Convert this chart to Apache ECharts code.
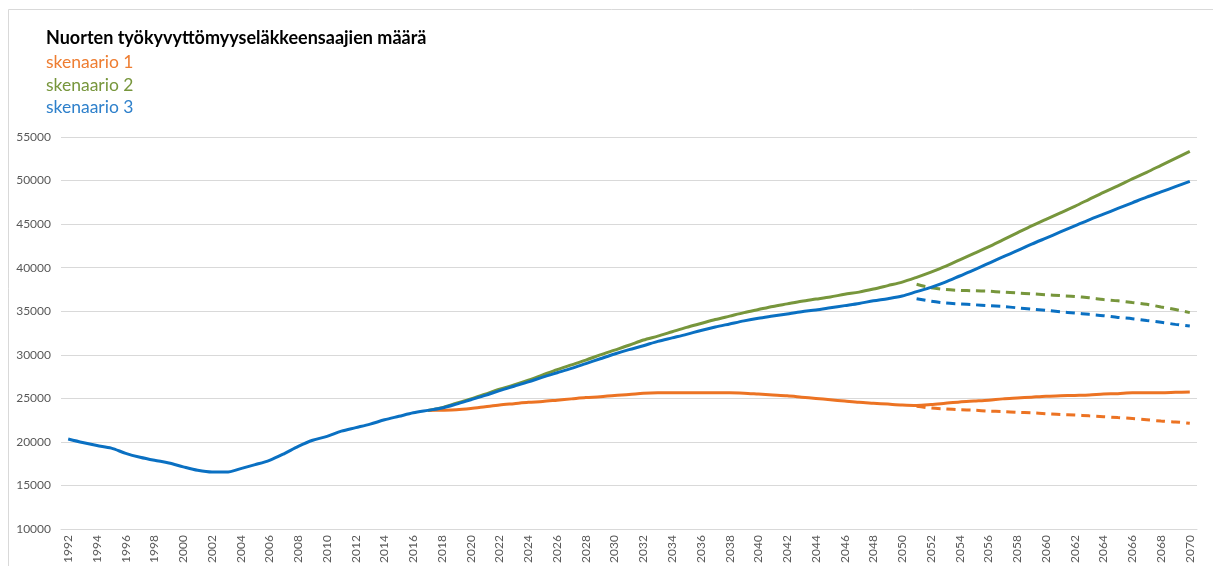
<!DOCTYPE html>
<html>
<head>
<meta charset="utf-8">
<script src="https://cdn.jsdelivr.net/npm/echarts@6/dist/echarts.min.js"></script>
<style>
html,body{margin:0;padding:0;background:#fff;}
#chart{width:1213px;height:566px;}
</style>
</head>
<body>
<div id="chart"></div>
<script>
// Years 1992..2070
var years = [];
for (var y = 1992; y <= 2070; y++) years.push(String(y));

var titleText = 'Nuorten työkyvyttömyyseläkkeensaajien määrä';
var scenarioNames = ['skenaario 1', 'skenaario 2', 'skenaario 3'];

// Historical 1992..2017 (shared)
var histData = [20350, 19950, 19600, 19300, 18700, 18250, 17900, 17600, 17150, 16750,
  16550, 16550, 16950, 17400, 17900, 18650, 19500, 20200, 20650, 21250,
  21650, 22050, 22550, 22950, 23350, 23630];

// Scenario 1 (orange) 2018..2070
var scen1 = [23650, 23700, 23850, 24050, 24250, 24400, 24550, 24650, 24800, 24950,
  25100, 25200, 25350, 25450, 25600, 25650, 25650, 25650, 25650, 25650,
  25650, 25600, 25500, 25400, 25300, 25150, 25000, 24850, 24700, 24550,
  24450, 24350, 24250, 24200, 24300, 24450, 24600, 24700, 24800, 24950,
  25050, 25150, 25250, 25300, 25350, 25400, 25500, 25550, 25650, 25650,
  25650, 25700, 25750];

// Scenario 2 (green) 2018..2070
var scen2 = [23950, 24450, 24950, 25500, 26050, 26550, 27100, 27700, 28300, 28850,
  29400, 30000, 30550, 31100, 31700, 32150, 32650, 33150, 33600, 34050,
  34450, 34850, 35200, 35550, 35850, 36150, 36400, 36650, 36950, 37200,
  37550, 37950, 38350, 38900, 39500, 40150, 40900, 41650, 42400, 43200,
  44000, 44800, 45550, 46300, 47050, 47850, 48650, 49400, 50200, 50950,
  51750, 52550, 53350];

// Scenario 3 (blue) 2018..2070
var scen3 = [23900, 24350, 24850, 25350, 25900, 26400, 26900, 27450, 27950, 28450,
  29000, 29550, 30100, 30600, 31050, 31550, 31950, 32350, 32800, 33200,
  33550, 33900, 34200, 34450, 34700, 34950, 35150, 35400, 35650, 35900,
  36200, 36450, 36750, 37250, 37750, 38350, 39050, 39750, 40500, 41250,
  41950, 42700, 43400, 44100, 44800, 45500, 46150, 46800, 47450, 48100,
  48700, 49300, 49900];

// Dashed alternatives 2051..2070
var dash1 = [24100, 23900, 23800, 23700, 23650, 23550, 23500, 23400, 23350, 23250,
  23150, 23100, 23000, 22900, 22800, 22700, 22550, 22400, 22300, 22150];
var dash2 = [38100, 37700, 37500, 37400, 37350, 37300, 37200, 37100, 37000, 36900,
  36800, 36700, 36550, 36350, 36200, 36000, 35800, 35500, 35200, 34850];
var dash3 = [36450, 36150, 35950, 35850, 35750, 35650, 35550, 35400, 35250, 35100,
  34950, 34800, 34650, 34500, 34300, 34150, 33950, 33750, 33500, 33300];

var colors = ['#EC7323', '#77963C', '#0A70C2'];
var textColors = ['#EE7D31', '#77963C', '#2E80CB'];

function nulls(n){ var a=[]; for(var i=0;i<n;i++) a.push(null); return a; }
var nHist = histData.length;          // 1992..2017
var nDashStart = 2051 - 1992;

var s1 = nulls(nHist - 1).concat([histData[nHist-1]]).concat(scen1);
var s2 = nulls(nHist - 1).concat([histData[nHist-1]]).concat(scen2);
var s3 = histData.concat(scen3);
var d1 = nulls(nDashStart).concat(dash1);
var d2 = nulls(nDashStart).concat(dash2);
var d3 = nulls(nDashStart).concat(dash3);

function line(data, color, dashed, z){
  return {
    type: 'line', data: data, showSymbol: false, symbol: 'none',
    smooth: 0.3, z: z, connectNulls: false,
    lineStyle: { color: color, width: 3, type: dashed ? [9, 6] : 'solid', cap: 'butt' },
    itemStyle: { color: color }, animation: false
  };
}

var FONT = 'Lato, "Open Sans", sans-serif';
function txt(str, yc, color, bold, size){
  return { type: 'text', x: 46, y: yc, silent: true,
    style: { text: str, fill: color, font: (bold ? 'bold ' : '') + size + 'px ' + FONT,
      textVerticalAlign: 'middle', verticalAlign: 'middle' } };
}

var chart = echarts.init(document.getElementById('chart'));
chart.setOption({
  animation: false,
  backgroundColor: '#ffffff',
  grid: { left: 61, right: 16, top: 137, bottom: 36, containLabel: false },
  graphic: [
    { type: 'rect', shape: { x: 8.5, y: 9.5, width: 1215, height: 600 },
      style: { fill: 'none', stroke: '#d9d9d9', lineWidth: 1 }, silent: true },
    txt(titleText, 38, '#000000', true, 18),
    txt(scenarioNames[0], 62, textColors[0], false, 17.5),
    txt(scenarioNames[1], 85, textColors[1], false, 17.5),
    txt(scenarioNames[2], 107, textColors[2], false, 17.5)
  ],
  xAxis: {
    type: 'category', data: years, boundaryGap: true,
    axisLine: { lineStyle: { color: '#d9d9d9', width: 1 } },
    axisTick: { show: false },
    axisLabel: { interval: 1, rotate: 90, color: '#595959', fontSize: 12,
      fontFamily: FONT, margin: 6 }
  },
  yAxis: {
    type: 'value', min: 10000, max: 55000, interval: 5000,
    axisLine: { show: false }, axisTick: { show: false },
    splitLine: { lineStyle: { color: '#d9d9d9', width: 1 } },
    axisLabel: { color: '#595959', fontSize: 12, margin: 10,
      fontFamily: FONT, formatter: function(v){ return String(v); } }
  },
  series: [
    line(d1, colors[0], true, 2),
    line(d2, colors[1], true, 2),
    line(d3, colors[2], true, 2),
    line(s1, colors[0], false, 3),
    line(s2, colors[1], false, 3),
    line(s3, colors[2], false, 4)
  ]
});
</script>
</body>
</html>
